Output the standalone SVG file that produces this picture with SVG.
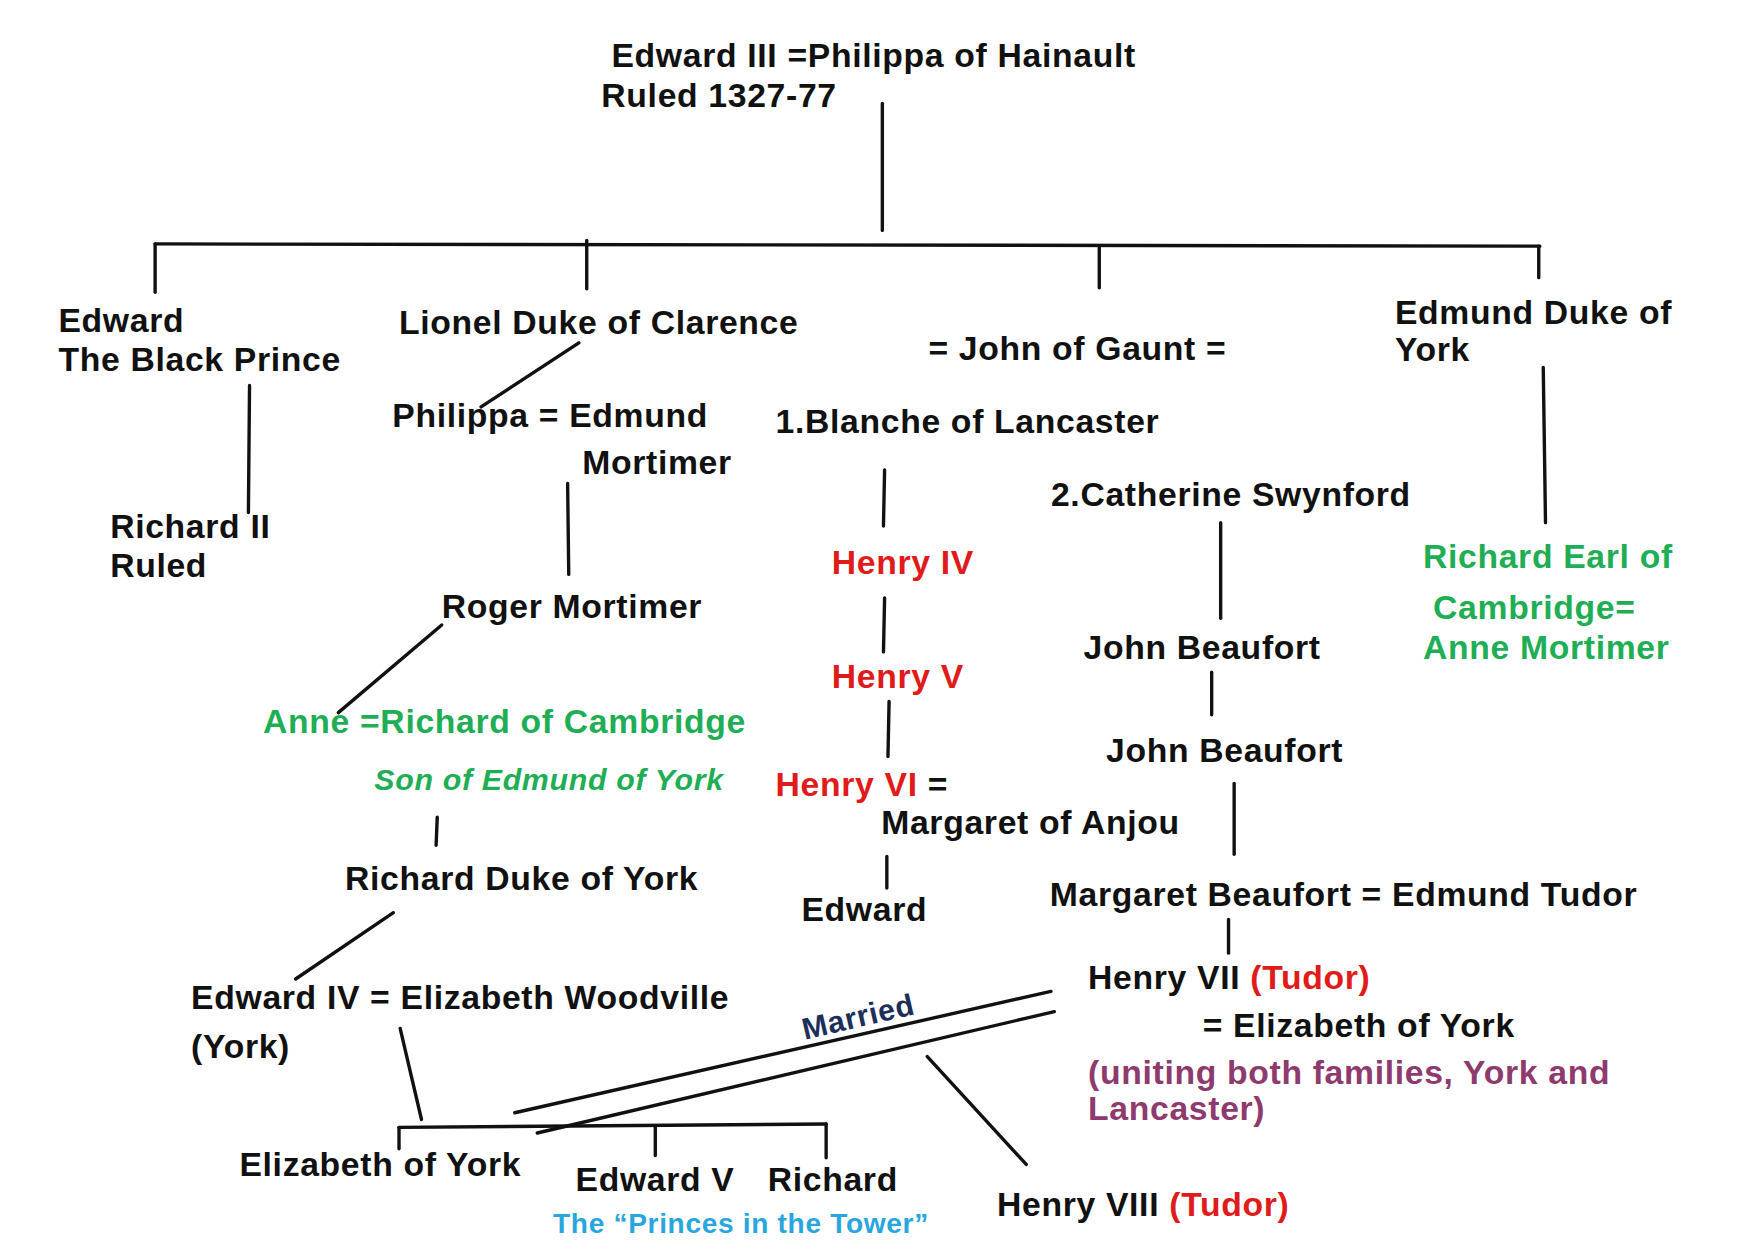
<svg xmlns="http://www.w3.org/2000/svg" width="1754" height="1240" viewBox="0 0 1754 1240">
<style>
text{font-family:"Liberation Sans",Arial,sans-serif;font-weight:bold;font-size:30px;letter-spacing:0.6px;fill:#111}
.r{fill:#e01b1b}.g{fill:#1fae55}.p{fill:#8e3a6e}
.sm{font-size:27px;font-style:italic}
.b{fill:#2aa6de;font-size:25px}
line{stroke:#111;stroke-width:3;stroke-linecap:round}
</style>
<rect width="1754" height="1240" fill="#fff"/>
<g transform="scale(1.124)">
<g id="connectors">
<line x1="785" y1="92" x2="785" y2="205"/>
<line x1="138" y1="217" x2="1370" y2="219"/>
<line x1="138" y1="217" x2="138" y2="260"/>
<line x1="522" y1="214" x2="522" y2="257"/>
<line x1="978" y1="219" x2="978" y2="256"/>
<line x1="1369" y1="219" x2="1369" y2="247"/>
<line x1="222" y1="343" x2="221" y2="456"/>
<line x1="515" y1="305" x2="428" y2="362"/>
<line x1="505" y1="430" x2="506" y2="511"/>
<line x1="393" y1="556" x2="301" y2="634"/>
<line x1="787" y1="418" x2="786" y2="468"/>
<line x1="787" y1="532" x2="786" y2="580"/>
<line x1="791" y1="624" x2="790" y2="673"/>
<line x1="1086" y1="465" x2="1086" y2="550"/>
<line x1="1078" y1="598" x2="1078" y2="636"/>
<line x1="1098" y1="697" x2="1098" y2="760"/>
<line x1="1373" y1="327" x2="1375" y2="465"/>
<line x1="389" y1="727" x2="388" y2="752"/>
<line x1="350" y1="812" x2="263" y2="871"/>
<line x1="789" y1="762" x2="789" y2="790"/>
<line x1="1093" y1="818" x2="1093" y2="848"/>
<line x1="356" y1="915" x2="375" y2="996"/>
<line x1="355" y1="1003" x2="735" y2="1000"/>
<line x1="355" y1="1003" x2="355" y2="1022"/>
<line x1="583" y1="1003" x2="583" y2="1028"/>
<line x1="735" y1="1000" x2="735" y2="1030"/>
<line x1="825" y1="940" x2="913" y2="1036"/>
<line x1="458" y1="990" x2="935" y2="882"/>
<line x1="478" y1="1008" x2="938" y2="900"/>
</g>
<g id="edward3"><text x="544" y="60">Edward III =Philippa of Hainault</text><text x="535" y="95">Ruled 1327-77</text></g>
<g id="blackprince"><text x="52" y="295">Edward</text><text x="52" y="330">The Black Prince</text></g>
<g id="lionel"><text x="355" y="297">Lionel Duke of Clarence</text></g>
<g id="gaunt"><text x="826" y="320">=  John of Gaunt =</text></g>
<g id="edmund"><text x="1241" y="288">Edmund Duke of</text><text x="1241" y="321">York</text></g>
<g id="philippa"><text x="349" y="380">Philippa = Edmund</text><text x="518" y="422">Mortimer</text></g>
<g id="blanche"><text x="690" y="385">1.Blanche of Lancaster</text></g>
<g id="catherine"><text x="935" y="450">2.Catherine Swynford</text></g>
<g id="richard2"><text x="98" y="479">Richard II</text><text x="98" y="513">Ruled</text></g>
<g id="henry4"><text class="r" x="740" y="511">Henry IV</text></g>
<g id="richardearl"><text class="g" x="1266" y="505">Richard Earl of</text><text class="g" x="1275" y="551">Cambridge=</text><text class="g" x="1266" y="586">Anne Mortimer</text></g>
<g id="roger"><text x="393" y="550">Roger Mortimer</text></g>
<g id="jb1"><text x="964" y="586">John Beaufort</text></g>
<g id="henry5"><text class="r" x="740" y="612">Henry V</text></g>
<g id="anne"><text class="g" x="234" y="652">Anne =Richard of Cambridge</text><text class="g sm" x="333" y="703">Son of Edmund of York</text></g>
<g id="jb2"><text x="984" y="678">John Beaufort</text></g>
<g id="henry6"><text x="690" y="708"><tspan class="r">Henry VI</tspan> =</text><text x="784" y="742">Margaret of Anjou</text></g>
<g id="richardyork"><text x="307" y="792">Richard Duke of York</text></g>
<g id="edward"><text x="713" y="819">Edward</text></g>
<g id="margaretb"><text x="934" y="806">Margaret Beaufort = Edmund Tudor</text></g>
<g id="henry7"><text x="968" y="880">Henry VII <tspan class="r">(Tudor)</tspan></text><text x="1070" y="923">= Elizabeth of York</text><text class="p" x="968" y="964">(uniting both families, York and</text><text class="p" x="968" y="996">Lancaster)</text></g>
<g id="edward4"><text x="170" y="898">Edward IV = Elizabeth Woodville</text><text x="170" y="941">(York)</text></g>
<g id="married"><text x="716" y="925" transform="rotate(-13 716 925)" style="fill:#1b2f5a;font-size:27px">Married</text></g>
<g id="elizabeth"><text x="213" y="1046">Elizabeth of York</text></g>
<g id="edward5"><text x="512" y="1060">Edward V</text></g>
<g id="richard"><text x="683" y="1060">Richard</text></g>
<g id="princes"><text class="b" x="492" y="1097">The “Princes in the Tower”</text></g>
<g id="henry8"><text x="887" y="1082">Henry VIII <tspan class="r">(Tudor)</tspan></text></g>
</g>
</svg>
